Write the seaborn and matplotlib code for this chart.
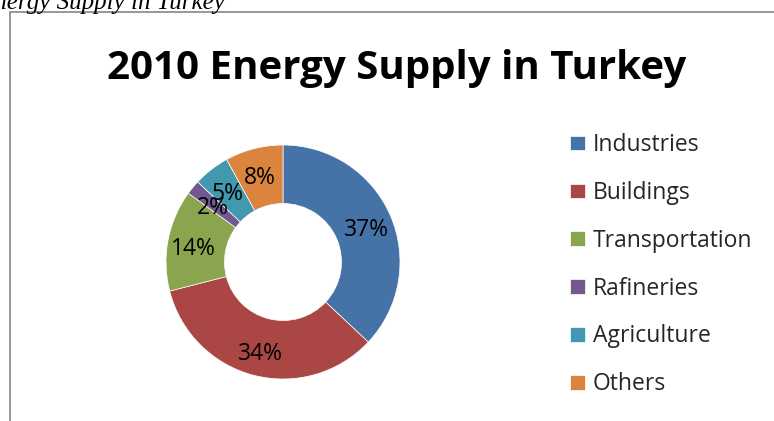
"""Donut chart: 2010 energy supply in Turkey."""
import matplotlib
matplotlib.use("Agg")
import matplotlib.pyplot as plt
import matplotlib.transforms as mtransforms
import seaborn as sns
from matplotlib.patches import Rectangle

sectors = ["Industries", "Buildings", "Transportation", "Rafineries", "Agriculture", "Others"]
shares = [37, 34, 14, 2, 5, 8]
colors = ["#4572A7", "#AA4643", "#89A54E", "#71588F", "#4198AF", "#DB843D"]

sns.set_theme(style="white")
plt.rcParams["font.family"] = ["Open Sans", "DejaVu Sans"]

W, H = 774, 421
fig = plt.figure(figsize=(W / 100, H / 100), dpi=100)

# chart frame (cut off on right and bottom, like the screenshot)
fig.patches.append(Rectangle((10 / W, -0.1), 1.0, (H - 12) / H + 0.1,
                             transform=fig.transFigure, fill=False,
                             edgecolor="#868686", linewidth=1.2))

# caption of the surrounding document, clipped at the top-left
fig.text(225 / W, (H - 9) / H, "Energy Supply in Turkey", ha="right", va="baseline",
         family="Liberation Serif", style="italic", fontsize=18, color="black")

fig.text(397 / W, (H - 68) / H, "2010 Energy Supply in Turkey", ha="center", va="center",
         fontsize=29, fontweight="bold", color="black")

cx, cy, r = 283, 262, 117
ax = fig.add_axes([(cx - r) / W, (H - cy - r) / H, 2 * r / W, 2 * r / H])
wedges, _, autotexts = ax.pie(
    shares, colors=sns.color_palette(colors), startangle=90, counterclock=False,
    radius=1, wedgeprops=dict(width=0.5, edgecolor="white", linewidth=0.5),
    autopct=lambda p: f"{p:.0f}%", pctdistance=0.78,
    textprops=dict(fontsize=16.5, color="black"),
)
# Excel sits the percent labels a little lower than matplotlib's centring
for t in autotexts:
    t.set_transform(mtransforms.offset_copy(t.get_transform(), fig=fig, y=-4, units="dots"))
ax.set_xlim(-1, 1)
ax.set_ylim(-1, 1)
ax.set_aspect("equal")
ax.axis("off")

fig.legend(wedges, sectors, loc="upper left", bbox_to_anchor=(561 / W, (H - 124) / H),
           frameon=False, fontsize=16.5, handlelength=0.65, handleheight=0.6,
           handletextpad=0.35, labelspacing=1.04, borderaxespad=0)

fig.savefig("out.png", dpi=100)
